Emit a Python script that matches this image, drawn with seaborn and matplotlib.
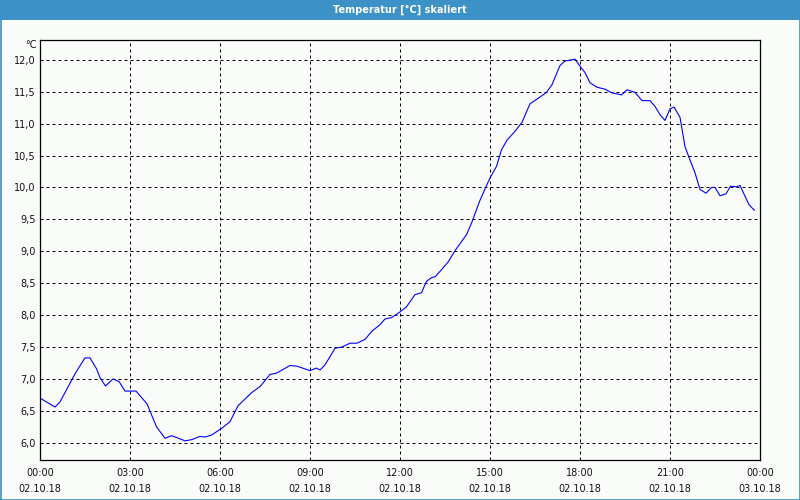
import matplotlib
matplotlib.use("Agg")
import matplotlib.pyplot as plt
from matplotlib.lines import Line2D
from matplotlib.patches import Rectangle
from matplotlib.ticker import MultipleLocator, FixedLocator
import seaborn as sns
import pandas as pd

# ---- data ----
times = ["00:00", "00:30", "00:40", "00:53", "01:10", "01:30", "01:40", "01:53", "02:00", "02:11",
         "02:26", "02:38", "02:50", "03:12", "03:34", "03:53", "04:10", "04:23", "04:34", "04:50",
         "05:04", "05:20", "05:30", "05:43", "06:04", "06:20", "06:36", "07:04", "07:20", "07:40",
         "07:53", "08:20", "08:34", "09:00", "09:13", "09:20", "09:30", "09:50", "10:04", "10:20",
         "10:34", "10:50", "11:04", "11:20", "11:30", "11:43", "12:00", "12:13", "12:30", "12:43",
         "12:53", "13:04", "13:10", "13:23", "13:37", "13:50", "14:13", "14:23", "14:40", "15:00",
         "15:13", "15:23", "15:34", "15:50", "16:04", "16:20", "16:37", "16:53", "17:04", "17:20",
         "17:30", "17:50", "18:00", "18:10", "18:20", "18:34", "18:50", "19:04", "19:17", "19:23",
         "19:34", "19:50", "20:04", "20:20", "20:30", "20:40", "20:50", "21:00", "21:08", "21:20",
         "21:30", "21:40", "21:50", "22:00", "22:12", "22:23", "22:30", "22:40", "22:52", "23:01",
         "23:13", "23:20", "23:38", "23:49"]
temps = [6.70, 6.56, 6.64, 6.83, 7.08, 7.33, 7.33, 7.16, 7.02, 6.89,
         7.00, 6.96, 6.81, 6.81, 6.61, 6.25, 6.07, 6.11, 6.08, 6.03,
         6.05, 6.10, 6.09, 6.12, 6.23, 6.33, 6.58, 6.79, 6.88, 7.07,
         7.09, 7.21, 7.20, 7.13, 7.17, 7.14, 7.22, 7.48, 7.50, 7.56,
         7.56, 7.62, 7.75, 7.85, 7.94, 7.96, 8.05, 8.13, 8.32, 8.35,
         8.53, 8.59, 8.60, 8.71, 8.84, 9.01, 9.26, 9.44, 9.80, 10.15,
         10.33, 10.59, 10.74, 10.88, 11.02, 11.31, 11.40, 11.49, 11.61, 11.91,
         11.98, 12.01, 11.90, 11.80, 11.64, 11.57, 11.54, 11.48, 11.46, 11.45,
         11.53, 11.49, 11.36, 11.36, 11.27, 11.14, 11.05, 11.23, 11.26, 11.10,
         10.64, 10.43, 10.23, 9.97, 9.91, 10.00, 10.00, 9.87, 9.90, 10.02,
         10.01, 10.03, 9.73, 9.64]
x_tick_times = ["00:00", "03:00", "06:00", "09:00", "12:00", "15:00", "18:00", "21:00", "00:00"]
x_tick_dates = ["02.10.18", "02.10.18", "02.10.18", "02.10.18", "02.10.18",
                "02.10.18", "02.10.18", "02.10.18", "03.10.18"]
y_ticks = [6.0, 6.5, 7.0, 7.5, 8.0, 8.5, 9.0, 9.5, 10.0, 10.5, 11.0, 11.5, 12.0]
title = "Temperatur [°C] skaliert"
unit = "°C"

def to_hours(s):
    h, m = s.split(":")
    return int(h) + int(m) / 60.0

df = pd.DataFrame({"hour": [to_hours(t) for t in times], "temp": temps})

sns.set_style("white")
plt.rcParams["font.family"] = ["DejaVu Sans"]

bg = "#FAFCFA"
frame_blue = "#3C91C7"

fig = plt.figure(figsize=(8, 5), dpi=100, facecolor=bg)
ax = fig.add_axes([40/800, 1 - 460/500, 720/800, 420/500])
ax.set_facecolor(bg)

sns.lineplot(data=df, x="hour", y="temp", ax=ax, color="#0000FF", linewidth=0.8)

ax.set_xlim(0, 24)
ax.set_ylim(5.73, 12.31)
ax.set_xlabel("")
ax.set_ylabel("")

# x ticks
ax.xaxis.set_major_locator(FixedLocator([0, 3, 6, 9, 12, 15, 18, 21, 24]))
ax.xaxis.set_minor_locator(MultipleLocator(1))
ax.set_xticklabels([f"{t}\n{d}" for t, d in zip(x_tick_times, x_tick_dates)],
                   linespacing=1.7)
ax.tick_params(axis="x", which="both", direction="in", length=3, width=0.8,
               color="black", labelsize=7, pad=6, labelcolor="#111111")
# y ticks
ax.set_yticks(y_ticks)
ax.set_yticklabels([f"{v:.1f}".replace(".", ",") for v in y_ticks])
ax.tick_params(axis="y", which="both", length=0, labelsize=7, pad=3, labelcolor="#111111")

ax.grid(True, which="major", color="black", linestyle=(0, (3, 3)), linewidth=0.72)

for sp in ax.spines.values():
    sp.set_visible(True)
    sp.set_color("black")
    sp.set_linewidth(0.9)

# unit label
fig.text(37/800, 1 - 45/500, unit, ha="right", va="center", fontsize=7, color="#111111")

# title bar
fig.patches.append(Rectangle((0, 1 - 20/500), 1, 20/500, transform=fig.transFigure,
                             facecolor=frame_blue, edgecolor="none", zorder=0))
fig.text(0.5, 1 - 9.5/500, title, ha="center", va="center", fontsize=7,
         fontweight="bold", color="white")

# window border
for xs, ys in [([0.5/800, 0.5/800], [0, 1]), ([799.5/800, 799.5/800], [0, 1]),
               ([0, 1], [0.5/500, 0.5/500])]:
    fig.lines.append(Line2D(xs, ys, transform=fig.transFigure, color=frame_blue, linewidth=1.2))

fig.savefig("out.png", dpi=100, facecolor=bg)
